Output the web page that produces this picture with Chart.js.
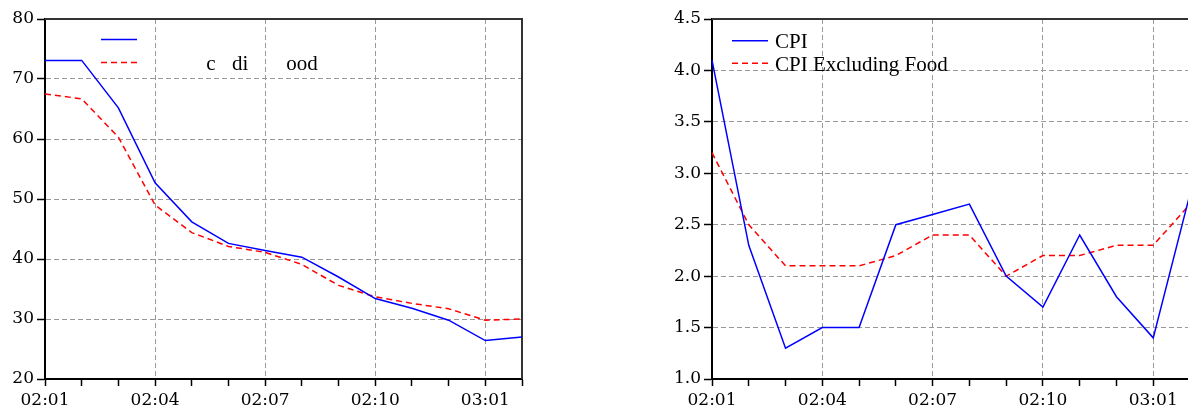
<!DOCTYPE html>
<html>
<head>
<meta charset="utf-8">
<script src="https://cdn.jsdelivr.net/npm/chart.js@4"></script>
<style>
    html, body { margin: 0; padding: 0; background: #fff; overflow: hidden; width: 1188px; height: 410px; }
    .box { position: absolute; top: 0; }
    #left-box { left: 0; }
    #right-box { left: 640px; }
</style>
</head>
<body>
<div class="box" id="left-box"><canvas id="left-chart" width="600" height="410"></canvas></div>
<div class="box" id="right-box"><canvas id="right-chart" width="600" height="410"></canvas></div>
<script>
// 데이터
const months = ['02:01', '02:02', '02:03', '02:04', '02:05', '02:06', '02:07',
                '02:08', '02:09', '02:10', '02:11', '02:12', '03:01', '03:02'];
const xTickLabels = ['02:01', '02:04', '02:07', '02:10', '03:01'];

// 왼쪽 차트
const leftSolid = [73.1, 73.1, 65.2, 52.7, 46.2, 42.6, 41.4, 40.3, 37.0, 33.4, 31.8, 29.8, 26.4, 27.0];
const leftDashed = [67.5, 66.7, 60.3, 49.0, 44.4, 42.1, 41.1, 39.1, 35.6, 33.7, 32.6, 31.7, 29.8, 30.0];

// 오른쪽 차트
const cpi = [4.1, 2.3, 1.3, 1.5, 1.5, 2.5, 2.6, 2.7, 2.0, 1.7, 2.4, 1.8, 1.4, 2.8];
const cpiExFood = [3.2, 2.5, 2.1, 2.1, 2.1, 2.2, 2.4, 2.4, 2.0, 2.2, 2.2, 2.3, 2.3, 2.7];

const tickFont = { family: 'DejaVu Serif', size: 17 };
const legendFont = '21px "Liberation Serif"';

// 플롯 테두리 (위, 오른쪽)
const framePlugin = {
    id: 'frame',
    beforeDatasetsDraw(chart) {
        const { ctx, chartArea: a } = chart;
        ctx.save();
        ctx.strokeStyle = '#333';
        ctx.lineWidth = 2;
        ctx.beginPath();
        ctx.moveTo(a.left, a.top);
        ctx.lineTo(a.right, a.top);
        ctx.lineTo(a.right, a.bottom);
        ctx.stroke();
        ctx.restore();
    }
};

// 차트 안쪽 범례
const insideLegend = {
    id: 'insideLegend',
    afterDatasetsDraw(chart, args, opts) {
        const { ctx, chartArea: a } = chart;
        const x0 = a.left + opts.lineX;
        ctx.save();
        ctx.font = legendFont;
        ctx.fillStyle = '#000';
        ctx.textBaseline = 'alphabetic';
        chart.data.datasets.forEach((ds, i) => {
            const y = opts.firstY + i * opts.rowGap;
            ctx.strokeStyle = ds.borderColor;
            ctx.lineWidth = ds.borderWidth;
            ctx.setLineDash(ds.borderDash || []);
            ctx.beginPath();
            ctx.moveTo(x0, y);
            ctx.lineTo(x0 + 36, y);
            ctx.stroke();
            const text = ds.label;
            const mask = ds.legendMask || text;
            const tx = x0 + 36 + opts.textGap;
            for (let k = 0; k < text.length; k++) {
                if (mask[k] === ' ') continue;
                ctx.fillText(text[k], tx + ctx.measureText(text.slice(0, k)).width, y + 7.5);
            }
        });
        ctx.restore();
    }
};

function makeChart(id, datasets, yOpts, axisWidth, padRight, legendOpts) {
    const ctx = document.getElementById(id).getContext('2d');
    return new Chart(ctx, {
        type: 'line',
        data: { labels: months, datasets: datasets },
        options: {
            responsive: false,
            animation: false,
            layout: { padding: { top: 19, right: padRight, bottom: 0, left: 0 } },
            elements: { point: { radius: 0 }, line: { tension: 0 } },
            plugins: {
                legend: { display: false },
                tooltip: { enabled: false },
                insideLegend: legendOpts
            },
            scales: {
                x: {
                    afterFit: s => { s.height = 31; },
                    grid: {
                        color: c => (c.tick && xTickLabels.includes(months[c.index])) ? '#999' : 'rgba(0,0,0,0)',
                        tickColor: '#000',
                        tickLength: 7,
                        tickWidth: 1.5
                    },
                    border: { color: '#000', width: 2, dash: [5, 3] },
                    ticks: {
                        autoSkip: false,
                        maxRotation: 0,
                        padding: 4,
                        color: '#000',
                        font: tickFont,
                        callback: (v, i) => xTickLabels.includes(months[i]) ? months[i] : ''
                    }
                },
                y: {
                    min: yOpts.min,
                    max: yOpts.max,
                    afterFit: s => { s.width = axisWidth; },
                    grid: { color: '#999', tickColor: '#000', tickLength: 8, tickWidth: 1.5 },
                    border: { color: '#000', width: 2, dash: [5, 3] },
                    ticks: {
                        stepSize: yOpts.step,
                        padding: 3,
                        color: '#000',
                        font: tickFont,
                        callback: yOpts.format
                    }
                }
            }
        },
        plugins: [framePlugin, insideLegend]
    });
}

// 왼쪽
makeChart('left-chart', [
    { label: 'CPI', data: leftSolid, borderColor: '#0000ff', borderWidth: 1.5, fill: false, legendMask: '   ' },
    { label: 'CPI Excluding Food', data: leftDashed, borderColor: '#ff0000', borderWidth: 1.5, borderDash: [6, 4], fill: false,
      legendMask: '      c  di    ood' }
], { min: 20, max: 80, step: 10, format: v => v }, 45, 78,
   { lineX: 56, textGap: 8, firstY: 39.5, rowGap: 23 });

// 오른쪽
makeChart('right-chart', [
    { label: 'CPI', data: cpi, borderColor: '#0000ff', borderWidth: 1.5, fill: false },
    { label: 'CPI Excluding Food', data: cpiExFood, borderColor: '#ff0000', borderWidth: 1.5, borderDash: [6, 4], fill: false }
], { min: 1, max: 4.5, step: 0.5, format: v => v.toFixed(1) }, 72, 50,
   { lineX: 20, textGap: 7, firstY: 40.7, rowGap: 22.6 });
</script>
</body>
</html>
